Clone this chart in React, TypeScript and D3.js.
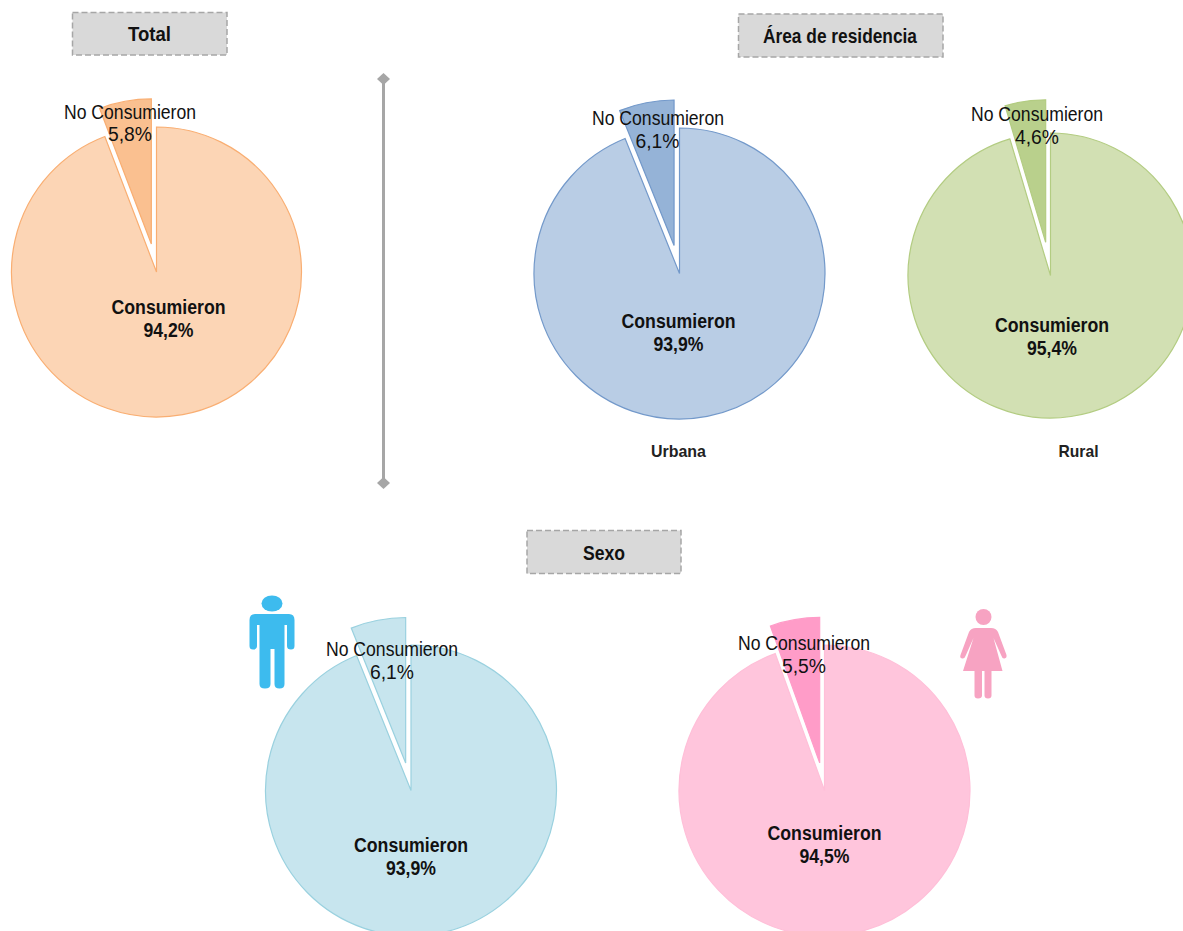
import React from "react";
import * as d3 from "d3";

const groupNames = ["Total", "Urbana", "Rural", "Hombre", "Mujer"];
const consumieron = [94.2, 93.9, 95.4, 93.9, 94.5];
const noConsumieron = [5.8, 6.1, 4.6, 6.1, 5.5];
const headers = ["Total", "Área de residencia", "Sexo"];
const subLabels = ["Urbana", "Rural"];

const pieLayout = [
  { cx: 156.5, cy: 272, r: 145, d: 28.5, fill: "#FCD5B5", slice: "#FAC090", stroke: "#F9AE72", sliceStroke: "#F9AE72", nx: 130, ny: 119, py: 141, px: 130, mx: 168.5, my: 314 },
  { cx: 679.5, cy: 273.5, r: 145.5, d: 28.5, fill: "#B9CDE5", slice: "#95B3D7", stroke: "#7399CA", sliceStroke: "#7399CA", nx: 658, ny: 125, py: 148, px: 657.5, mx: 678.5, my: 328 },
  { cx: 1050.5, cy: 275.5, r: 142.5, d: 33.5, fill: "#D2E0B3", slice: "#B9D08C", stroke: "#B3CC82", sliceStroke: "#B3CC82", nx: 1037, ny: 121, py: 144, px: 1037, mx: 1052, my: 332 },
  { cx: 411, cy: 790.5, r: 145.5, d: 28, fill: "#C7E5EE", slice: "#C7E5EE", stroke: "#9AD1DF", sliceStroke: "#9AD1DF", nx: 392, ny: 656, py: 679, px: 392, mx: 411, my: 852 },
  { cx: 824.5, cy: 790.5, r: 145.5, d: 28, fill: "#FFC5DC", slice: "#FF9CC8", stroke: "#FFBFD8", sliceStroke: "#FF9CC8", nx: 804, ny: 650, py: 673, px: 804, mx: 824.5, my: 840 },
];
const headerLayout = [
  { x: 72.5, y: 12.5, w: 154.5, h: 42.5, tx: 149.5, ty: 41, tw: 43 },
  { x: 738.5, y: 14, w: 204.5, h: 43, tx: 840, ty: 43, tw: 154 },
  { x: 527, y: 530.5, w: 154, h: 43, tx: 604, ty: 560, tw: 42 },
];
const subLayout = [
  { x: 678.5, y: 457, w: 55 },
  { x: 1078.5, y: 457, w: 40 },
];
const fontFamily = "'Liberation Sans', Arial, sans-serif";
const fmt = (v: number) => v.toFixed(1).replace(".", ",") + "%";

function Pie({ i }: { i: number }) {
  const l = pieLayout[i];
  const data = [
    { key: "Consumieron", value: consumieron[i] },
    { key: "No Consumieron", value: noConsumieron[i] },
  ];
  const arcs = d3.pie<any>().sort(null).value((d) => d.value)(data);
  const arc = d3.arc<any>().innerRadius(0).outerRadius(l.r);
  const mid = (arcs[1].startAngle + arcs[1].endAngle) / 2;
  const ox = Math.sin(mid) * l.d;
  const oy = -Math.cos(mid) * l.d;
  return (
    <g>
      <path d={arc(arcs[0]) as string} transform={`translate(${l.cx},${l.cy})`} fill={l.fill} stroke={l.stroke} strokeWidth={1.2} />
      <path d={arc(arcs[1]) as string} transform={`translate(${l.cx + ox},${l.cy + oy})`} fill={l.slice} stroke={l.sliceStroke} strokeWidth={1.2} />
      <text x={l.nx} y={l.ny} textAnchor="middle" fontSize={20} fill="#111" textLength={132} lengthAdjust="spacingAndGlyphs">No Consumieron</text>
      <text x={l.px} y={l.py} textAnchor="middle" fontSize={20} fill="#111" textLength={44} lengthAdjust="spacingAndGlyphs">{fmt(noConsumieron[i])}</text>
      <text x={l.mx} y={l.my} textAnchor="middle" fontSize={19.5} fontWeight="bold" fill="#111" textLength={114} lengthAdjust="spacingAndGlyphs">Consumieron</text>
      <text x={l.mx} y={l.my + 23} textAnchor="middle" fontSize={19.5} fontWeight="bold" fill="#111" textLength={50} lengthAdjust="spacingAndGlyphs">{fmt(consumieron[i])}</text>
    </g>
  );
}

function Man() {
  const c = "#3DBBEE";
  return (
    <g fill={c}>
      <ellipse cx={272} cy={603.5} rx={10.5} ry={8} />
      <path d="M255 614 H289 Q294.5 614 294.5 620 V646 Q294.5 649.5 291 649.5 Q287 649.5 287 646 V625 H284.5 V684 Q284.5 688.5 279.5 688.5 Q274.5 688.5 274.5 684 V649 H270.5 V684 Q270.5 688.5 265 688.5 Q259.5 688.5 259.5 684 V625 H257 V646 Q257 649.5 253 649.5 Q249.5 649.5 249.5 646 V620 Q249.5 614 255 614 Z" />
    </g>
  );
}

function Woman() {
  const c = "#F7A3C2";
  return (
    <g fill={c}>
      <circle cx={983.5} cy={617} r={8} />
      <path d="M976 628 H991 Q996 628 998 632 L1006.5 655 Q1007 658 1004.5 658.5 Q1002.5 659 1001.5 656 L993.5 638 L1002.5 671 H991.5 V695.5 Q991.5 698.5 988 698.5 Q984.5 698.5 984.5 695.5 V671 H982 V695.5 Q982 698.5 978 698.5 Q974.5 698.5 974.5 695.5 V671 H963 L973.5 638 L965.5 656 Q964.5 659 962 658.5 Q959.5 658 960.5 655 L969 632 Q971 628 976 628 Z" />
    </g>
  );
}

export default function App() {
  return (
    <svg
      width={1183}
      height={931}
      viewBox="0 0 1183 931"
      style={{ position: "absolute", left: 0, top: 0, display: "block", background: "#fff" }}
      fontFamily={fontFamily}
    >
      {groupNames.map((name, i) => (
        <Pie key={name} i={i} />
      ))}
      {headers.map((h, i) => {
        const b = headerLayout[i];
        return (
          <g key={h}>
            <rect x={b.x} y={b.y} width={b.w} height={b.h} fill="#D9D9D9" stroke="#A6A6A6" strokeWidth={1.5} strokeDasharray="6 3" />
            <text x={b.tx} y={b.ty} textAnchor="middle" fontSize={19.5} fontWeight="bold" fill="#111" textLength={b.tw} lengthAdjust="spacingAndGlyphs">{h}</text>
          </g>
        );
      })}
      {subLabels.map((s, i) => (
        <text key={s} x={subLayout[i].x} y={subLayout[i].y} textAnchor="middle" fontSize={17} fontWeight="bold" fill="#222" textLength={subLayout[i].w} lengthAdjust="spacingAndGlyphs">{s}</text>
      ))}
      <line x1={383.5} y1={79} x2={383.5} y2={483} stroke="#A6A6A6" strokeWidth={3} />
      <path d="M383.5 73 L390 79 L383.5 85 L377 79 Z" fill="#A6A6A6" />
      <path d="M383.5 477 L390 483 L383.5 489 L377 483 Z" fill="#A6A6A6" />
      <Man />
      <Woman />
    </svg>
  );
}
